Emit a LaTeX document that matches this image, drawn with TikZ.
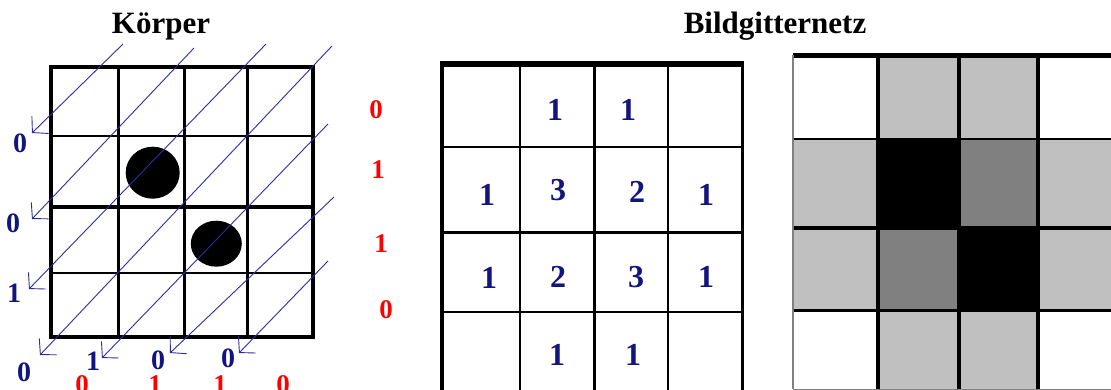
\documentclass[tikz,border=0pt]{standalone}
\usepackage{fontspec}
\setmainfont{Liberation Serif}
\usetikzlibrary{arrows.meta}
\definecolor{navyb}{RGB}{20,20,125}
\definecolor{lineb}{RGB}{45,45,160}
\definecolor{lgray}{RGB}{192,192,192}
\definecolor{dgray}{RGB}{128,128,128}
\tikzset{
  ttl/.style={font=\fontsize{31}{31}\selectfont\bfseries, anchor=base, inner sep=0pt},
  blab/.style={font=\fontsize{28}{28}\selectfont\bfseries, text=navyb, inner sep=0pt},
  rlab/.style={font=\fontsize{27}{27}\selectfont\bfseries, text=red, inner sep=0pt},
  num/.style={font=\fontsize{32}{32}\selectfont\bfseries, text=navyb, inner sep=0pt},
  diag/.style={draw=lineb, line width=0.9pt, -{Straight Barb[length=11pt,width=24pt,line width=0.9pt]}},
  thickl/.style={line width=4.5pt},
  medl/.style={line width=3pt},
  thinl/.style={line width=1.6pt},
  cellbox/.style={draw=dgray, line width=0.8pt},
}
\begin{document}
\begin{tikzpicture}[x=1pt,y=-1pt]
\useasboundingbox (0,0) rectangle (1111,389);
\fill[white] (0,0) rectangle (1111,389);

% titles
\node[ttl] (t1) at (161,33) {Körper};
\node[ttl] (t2) at (775,33) {Bildgitternetz};

% ---------- left grid ----------
\draw[thinl] (51,136) -- (313,136);
\draw[thinl] (51,273) -- (313,273);
\draw[medl] (118,67) -- (118,337);
\draw[medl] (184,67) -- (184,337);
\draw[medl] (247,67) -- (247,337);
\draw[thickl] (51,207) -- (313,207);
\draw[line width=4pt] (51,67) rectangle (313,337);

\fill (152.7,172.7) ellipse [x radius=27, y radius=26];
\fill (216.3,243.7) ellipse [x radius=25.5, y radius=23];

% diagonal arrows
\coordinate (s1) at (123,44);  \coordinate (e1) at (32,133);
\coordinate (s2) at (194,48);  \coordinate (e2) at (32,219);
\coordinate (s3) at (266,44);  \coordinate (e3) at (29,289);
\coordinate (s4) at (332,46);  \coordinate (e4) at (40,355);
\coordinate (s5) at (328,124); \coordinate (e5) at (102,358);
\coordinate (s6) at (334,197); \coordinate (e6) at (170,353);
\coordinate (s7) at (328,261); \coordinate (e7) at (239,353);
\foreach \i in {1,...,7} { \draw[diag] (s\i) -- (e\i); }

% blue sums
\node[blab] (b1) at (20,143) {0};
\node[blab] (b2) at (13,223) {0};
\node[blab] (b3) at (14,293) {1};
\node[blab] (b4) at (24,372) {0};
\node[blab] (b5) at (93,361) {1};
\node[blab] (b6) at (158,360) {0};
\node[blab] (b7) at (228,358) {0};

% red sums
\node[rlab] (r1) at (376,110) {0};
\node[rlab] (r2) at (378,170) {1};
\node[rlab] (r3) at (381,244) {1};
\node[rlab] (r4) at (386,310) {0};
\node[rlab, anchor=base] (r5) at (82,393) {0};
\node[rlab, anchor=base] (r6) at (155,393) {1};
\node[rlab, anchor=base] (r7) at (220,393) {1};
\node[rlab, anchor=base] (r8) at (283,393) {0};

% ---------- middle grid ----------
\draw[thinl] (520,64) -- (520,392);
\draw[thinl] (668,64) -- (668,392);
\draw[thinl] (442,147) -- (742,147);
\draw[thinl] (442,312) -- (742,312);
\draw[medl] (594,64) -- (594,392);
\draw[medl] (442,232) -- (742,232);
\draw[medl] (742,64) -- (742,392);
\draw[line width=4pt] (442,392) -- (442,64);
\draw[line width=5.5pt] (440,64) -- (744,64);

\node[num] (m12) at (555,110) {1};
\node[num] (m13) at (628,110) {1};
\node[num] (m21) at (487,195) {1};
\node[num] (m22) at (558,190) {3};
\node[num] (m23) at (637,192) {2};
\node[num] (m24) at (706,195) {1};
\node[num] (m31) at (489,278) {1};
\node[num] (m32) at (558,277) {2};
\node[num] (m33) at (636,277) {3};
\node[num] (m34) at (706,277) {1};
\node[num] (m42) at (557,355) {1};
\node[num] (m43) at (633,355) {1};

% ---------- right grid ----------
\def\gx{{793,878,959,1038,1125}}
\def\gy{{55,139,228,310,389}}
\foreach \r/\c/\col in {
  0/0/white,0/1/lgray,0/2/lgray,0/3/white,
  1/0/lgray,1/1/black,1/2/dgray,1/3/lgray,
  2/0/lgray,2/1/dgray,2/2/black,2/3/lgray,
  3/0/white,3/1/lgray,3/2/lgray,3/3/white} {
  \pgfmathsetmacro{\xa}{\gx[\c]}
  \pgfmathsetmacro{\xb}{\gx[\c+1]}
  \pgfmathsetmacro{\ya}{\gy[\r]}
  \pgfmathsetmacro{\yb}{\gy[\r+1]}
  \filldraw[cellbox, fill=\col] (\xa,\ya) rectangle (\xb,\yb);
}
\draw[thinl] (793,139) -- (1111,139);
\draw[thickl] (793,228) -- (1111,228);
\draw[medl] (793,310) -- (1111,310);
\draw[thickl] (878,55) -- (878,389);
\draw[thickl] (959,55) -- (959,389);
\draw[thickl] (1038,55) -- (1038,389);
\draw[line width=5pt] (793,55) -- (1111,55);
\draw[line width=1.5pt, draw=dgray] (793,55) -- (793,389);
\end{tikzpicture}
\end{document}
